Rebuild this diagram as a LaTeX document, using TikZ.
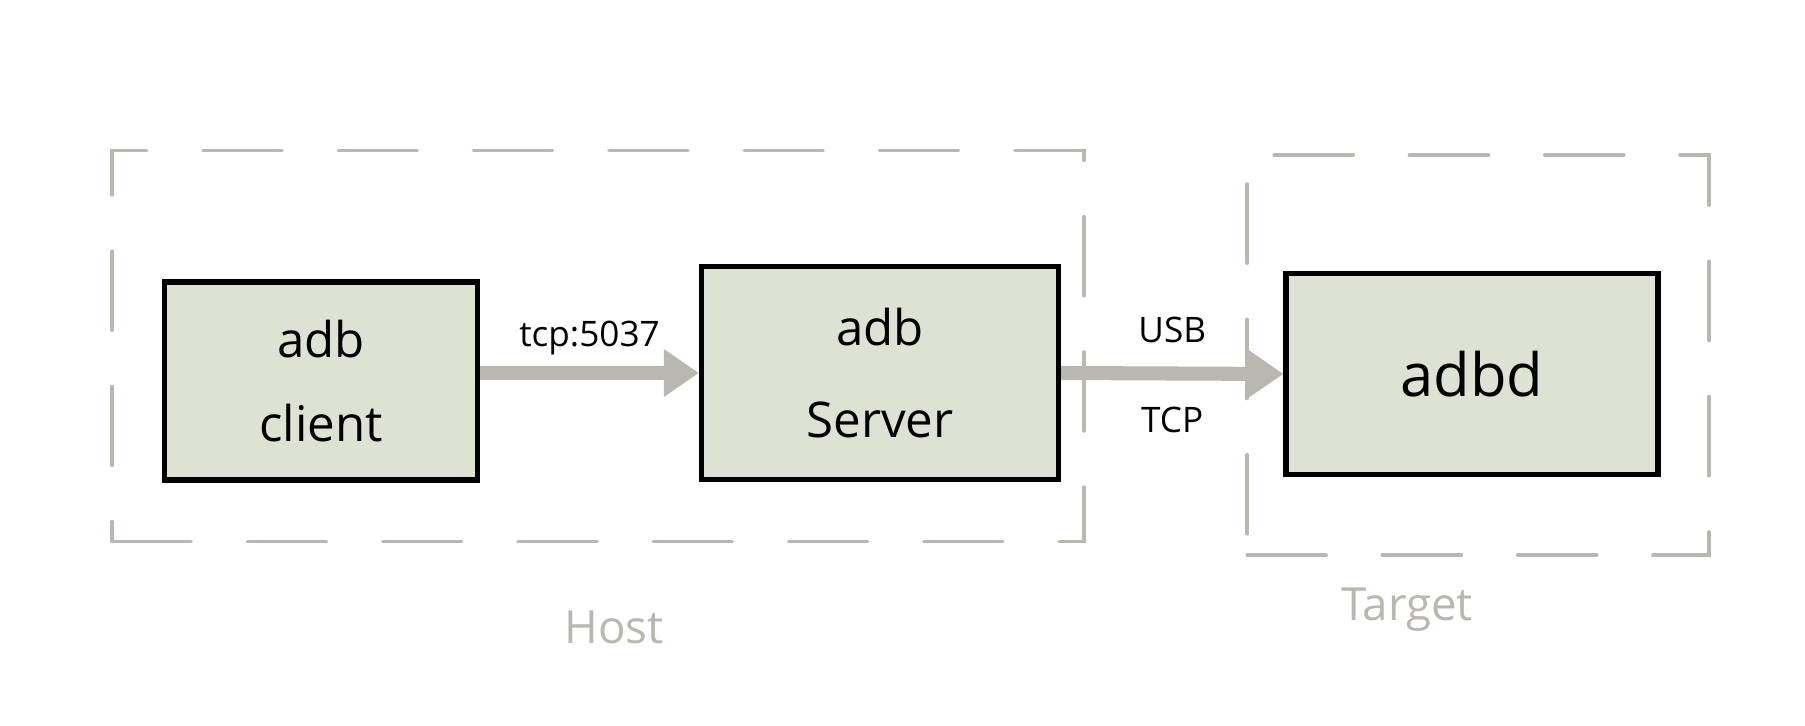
\documentclass[tikz,border=0pt]{standalone}
\usepackage{fontspec}
\setmainfont{Open Sans}
\usetikzlibrary{arrows.meta,positioning}
\definecolor{boxfill}{HTML}{DEE2D2}
\definecolor{pencil}{HTML}{BAB7B0}

\begin{document}
\begin{tikzpicture}[x=0.02cm,y=-0.02cm,
    comp/.style={draw=black,line width=3pt,fill=boxfill,align=center,inner sep=0pt,
                 font=\fontsize{28}{48}\selectfont},
    group/.style={draw=pencil,line width=2pt,dash pattern=on 45pt off 32pt,
                  line cap=round,inner sep=0pt},
    link/.style={draw=pencil,line width=8pt,-{Triangle[length=20pt,width=26pt]}},
    note/.style={font=\fontsize{20}{24}\selectfont},
    grouplabel/.style={text=pencil,font=\fontsize{26}{30}\selectfont}
   ]
    \useasboundingbox (0,0) rectangle (1805,726);

    % host and target areas
    \node[group,minimum width=19.44cm,minimum height=7.82cm] (host) at (598,346) {};
    \node[group,minimum width=9.24cm,minimum height=8cm] (target) at (1478,355) {};

    % components
    \node[comp,minimum width=6.26cm,minimum height=3.96cm] (client) at (321,381) {adb\\client};
    \node[comp,minimum width=7.14cm,minimum height=4.26cm,font=\fontsize{28}{52}\selectfont]
        (server) at (880,373) {adb\\Server};
    \node[comp,minimum width=7.44cm,minimum height=4.02cm,font=\fontsize{34}{40}\selectfont]
        (adbd) at (1472,374) {adbd};

    % connections
    \draw[link] (client.east |- server.west) -- node[note,above=3pt] {tcp:5037} (server.west);
    \draw[link] (server.east) -- node[note,above=10pt] {USB}
                                 node[note,below=12pt] {TCP} (adbd.west);

    \node[grouplabel] (hostname) at (614,627) {Host};
    \node[grouplabel] (targetname) at (1407,610) {Target};
\end{tikzpicture}
\end{document}
